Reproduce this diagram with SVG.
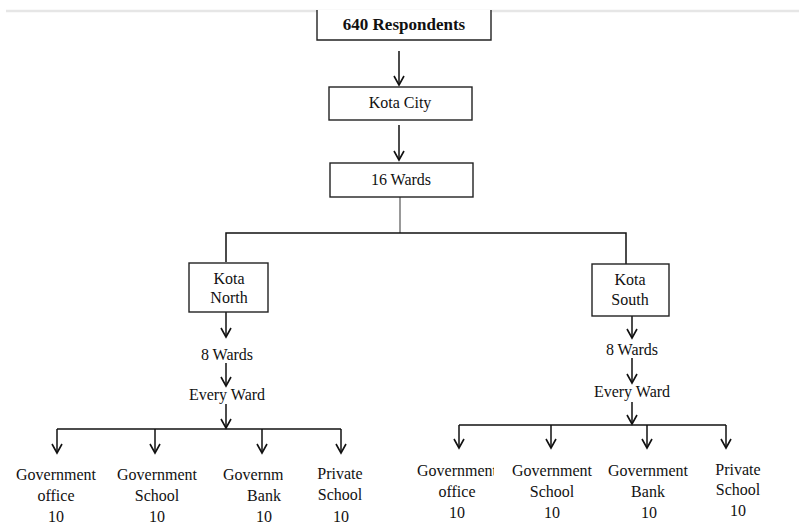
<svg xmlns="http://www.w3.org/2000/svg" width="799" height="524" viewBox="0 0 799 524">
<defs>
<marker id="arr" markerUnits="userSpaceOnUse" viewBox="0 0 12 12" refX="10" refY="6" markerWidth="12" markerHeight="12" orient="auto">
<path d="M1,1 L10,6 L1,11" fill="none" stroke="#111" stroke-width="1.6"/>
</marker>
<clipPath id="c1"><rect x="150" y="460" width="133" height="30"/></clipPath>
<clipPath id="c2"><rect x="400" y="455" width="94" height="30"/></clipPath>
</defs>
<style>
.box{fill:#fff;stroke:#222;stroke-width:1.4}
.t{font-family:"Liberation Serif","Times New Roman",serif;font-size:16px;fill:#111;text-anchor:middle}
.b{font-weight:bold;font-size:17px}
.ln{fill:none;stroke:#111;stroke-width:1.5}
.ar{fill:none;stroke:#111;stroke-width:1.5;marker-end:url(#arr)}
</style>
<rect x="0" y="0" width="799" height="524" fill="#fff"/>
<line x1="6" y1="11" x2="799" y2="11" stroke="#e6e6e6" stroke-width="2.5"/>
<g id="connectors">
<line class="ar" x1="399" y1="51" x2="399" y2="85"/>
<line class="ar" x1="399" y1="125" x2="399" y2="160"/>
<line x1="400" y1="197" x2="400" y2="233" stroke="#777" stroke-width="1.5"/>
<polyline class="ln" points="226,262 226,233 626,233 626,264"/>
<line class="ar" x1="226" y1="312" x2="226" y2="337"/>
<line class="ar" x1="226" y1="363" x2="226" y2="386"/>
<line class="ar" x1="226" y1="404" x2="226" y2="428"/>
<line class="ln" x1="57" y1="429" x2="341" y2="429"/>
<line class="ar" x1="57" y1="429" x2="57" y2="453"/>
<line class="ar" x1="155" y1="429" x2="155" y2="453"/>
<line class="ar" x1="262" y1="429" x2="262" y2="453"/>
<line class="ar" x1="341" y1="429" x2="341" y2="453"/>
<line class="ar" x1="632" y1="316" x2="632" y2="338"/>
<line class="ar" x1="632" y1="358" x2="632" y2="383"/>
<line class="ar" x1="632" y1="402" x2="632" y2="424"/>
<line class="ln" x1="459" y1="425" x2="726" y2="425"/>
<line class="ar" x1="459" y1="425" x2="459" y2="448"/>
<line class="ar" x1="551" y1="425" x2="551" y2="448"/>
<line class="ar" x1="647" y1="425" x2="647" y2="448"/>
<line class="ar" x1="726" y1="425" x2="726" y2="448"/>
</g>
<g id="respondents">
<polyline class="box" points="317,10 317,40 491,40 491,10"/>
<text class="t b" x="404" y="30">640 Respondents</text>
</g>
<g id="kota-city">
<rect class="box" x="329" y="87" width="143" height="33"/>
<text class="t" x="400" y="108">Kota City</text>
</g>
<g id="wards16">
<rect class="box" x="330" y="163" width="143" height="34"/>
<text class="t" x="401" y="185">16 Wards</text>
</g>
<g id="kota-north">
<rect class="box" x="189" y="263" width="79" height="49"/>
<text class="t" x="229" y="284">Kota</text>
<text class="t" x="229" y="303">North</text>
</g>
<g id="north-8wards"><text class="t" x="227" y="360">8 Wards</text></g>
<g id="north-every"><text class="t" x="227" y="400">Every Ward</text></g>
<g id="kota-south">
<rect class="box" x="592" y="264" width="77" height="52"/>
<text class="t" x="630" y="285">Kota</text>
<text class="t" x="630" y="305">South</text>
</g>
<g id="south-8wards"><text class="t" x="632" y="355">8 Wards</text></g>
<g id="south-every"><text class="t" x="632" y="397">Every Ward</text></g>
<g id="n-gov-office">
<text class="t" x="56" y="480">Government</text>
<text class="t" x="56" y="501">office</text>
<text class="t" x="56" y="522">10</text>
</g>
<g id="n-gov-school">
<text class="t" x="157" y="480">Government</text>
<text class="t" x="157" y="501">School</text>
<text class="t" x="157" y="522">10</text>
</g>
<g id="n-gov-bank">
<text class="t" x="263" y="480" clip-path="url(#c1)">Government</text>
<text class="t" x="264" y="501">Bank</text>
<text class="t" x="264" y="522">10</text>
</g>
<g id="n-private">
<text class="t" x="340" y="479">Private</text>
<text class="t" x="340" y="500">School</text>
<text class="t" x="341" y="522">10</text>
</g>
<g id="s-gov-office">
<text class="t" x="457" y="476" clip-path="url(#c2)">Government</text>
<text class="t" x="457" y="497">office</text>
<text class="t" x="457" y="518">10</text>
</g>
<g id="s-gov-school">
<text class="t" x="552" y="476">Government</text>
<text class="t" x="552" y="497">School</text>
<text class="t" x="552" y="518">10</text>
</g>
<g id="s-gov-bank">
<text class="t" x="648" y="476">Government</text>
<text class="t" x="648" y="497">Bank</text>
<text class="t" x="649" y="518">10</text>
</g>
<g id="s-private">
<text class="t" x="738" y="475">Private</text>
<text class="t" x="738" y="495">School</text>
<text class="t" x="738" y="516">10</text>
</g>
</svg>
